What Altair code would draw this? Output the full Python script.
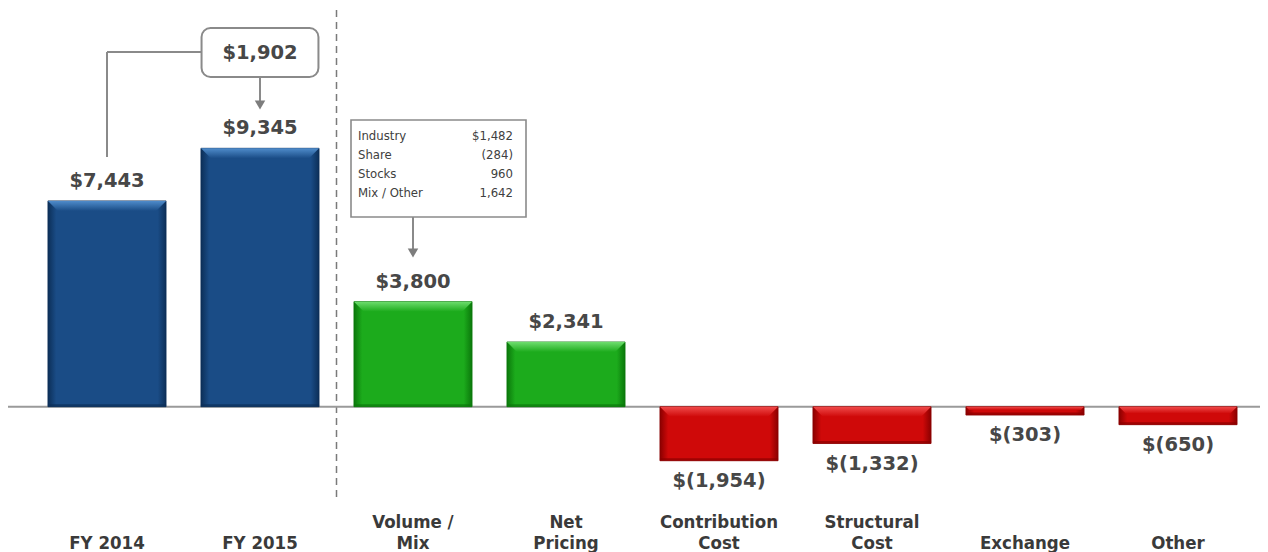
import altair as alt
import pandas as pd

# ---------------- data ----------------
categories = ["FY 2014", "FY 2015", "Volume /\nMix", "Net\nPricing",
              "Contribution\nCost", "Structural\nCost", "Exchange", "Other"]
values = [7443, 9345, 3800, 2341, -1954, -1332, -303, -650]
value_labels = ["$7,443", "$9,345", "$3,800", "$2,341",
                "$(1,954)", "$(1,332)", "$(303)", "$(650)"]
groups = ["total", "total", "up", "up", "down", "down", "down", "down"]

change_label = "$1,902"
detail_names = ["Industry", "Share", "Stocks", "Mix / Other"]
detail_values = ["$1,482", "(284)", "960", "1,642"]

# ---------------- geometry helpers ----------------
W, H = 1252, 544
K = 0.02765          # pixels per $M
BASE = 398.7         # zero line, px from top of plot
STEP, X0 = 153.0, 99.0
HALF = 0.386         # half bar width in category units

y_top = BASE / K
y_bot = -(H - BASE) / K
x_min = -X0 / STEP
x_max = (W - X0) / STEP


def vy(py):  # plot-pixel row -> value units
    return (BASE - py) / K


def vx(px_):  # plot-pixel column -> category units
    return (px_ - X0) / STEP


xs = alt.Scale(domain=[x_min, x_max], nice=False, zero=False)
ys = alt.Scale(domain=[y_bot, y_top], nice=False, zero=False)


def X(f):
    return alt.X(f, type="quantitative", scale=xs, axis=None)


def Y(f):
    return alt.Y(f, type="quantitative", scale=ys, axis=None)


bars = pd.DataFrame({"i": list(range(len(categories))), "cat": categories,
                     "value": values, "label": value_labels, "group": groups})

base = alt.Chart(bars).transform_calculate(
    xa=f"datum.i - {HALF}", xb=f"datum.i + {HALF}", zero="0",
).transform_calculate(
    eb="min(0, datum.value)",
    et=f"min(0, datum.value) + {2.5 / K}",
    ly=f"datum.value >= 0 ? datum.value + {20 / K} : datum.value - {20 / K}",
    cy=f"indexof(datum.cat, '\\n') >= 0 ? {vy(520)} : {vy(541)}",
)

# trapezoid bevel at the top face of each bar (derived from the values)
bev_rows = []
for i, (v, g) in enumerate(zip(values, groups)):
    b_px = min(10.0, abs(v) * K * 0.38)
    top = max(v, 0)
    d = b_px / STEP
    for xo, drop in [(-HALF, 0), (-HALF + d, b_px), (HALF - d, b_px), (HALF, 0)]:
        bev_rows.append({"bar": i, "group": g, "bx": i + xo,
                         "btop": top, "bbot": top - drop / K})
bevel_df = pd.DataFrame(bev_rows)

palette = {
    "total": ("#1a4c86", "#0c2f58", "#4f8ccb"),
    "up": ("#1cab1c", "#0b780b", "#6edd6e"),
    "down": ("#cf0909", "#8a0000", "#f04a4a"),
}

layers = []
for g, (main, dark, light) in palette.items():
    sub = base.transform_filter(f"datum.group == '{g}'")
    body = sub.mark_rect(
        color=alt.Gradient(gradient="linear", x1=0, x2=1, y1=0, y2=0, stops=[
            alt.GradientStop(color=dark, offset=0),
            alt.GradientStop(color=main, offset=0.07),
            alt.GradientStop(color=main, offset=0.93),
            alt.GradientStop(color=dark, offset=1)]),
        stroke=dark, strokeWidth=0.8,
    ).encode(x=X("xa:Q"), x2="xb:Q", y=Y("zero:Q"), y2="value:Q")
    top = alt.Chart(bevel_df).transform_filter(f"datum.group == '{g}'").mark_area(
        orient="vertical", interpolate="linear",
        color=alt.Gradient(gradient="linear", x1=0, x2=0, y1=0, y2=1, stops=[
            alt.GradientStop(color=light, offset=0),
            alt.GradientStop(color=main, offset=1)]),
    ).encode(x=alt.X("bx:Q", scale=xs, axis=None),
             y=alt.Y("btop:Q", scale=ys, axis=None, stack=None), y2="bbot:Q",
             detail="bar:N")
    edge = sub.mark_rect(color=dark, opacity=0.7).encode(
        x=alt.X("xa:Q", scale=xs, axis=None), x2="xb:Q",
        y=alt.Y("eb:Q", scale=ys, axis=None), y2="et:Q")
    layers += [body, top, edge]

value_text = base.mark_text(
    font="DejaVu Sans", fontWeight="bold", fontSize=19.5, color="#474747",
    baseline="middle", align="center",
).encode(x=alt.X("i:Q", scale=xs, axis=None),
         y=alt.Y("ly:Q", scale=ys, axis=None), text="label:N")

cat_text = base.mark_text(
    font="DejaVu Sans Condensed", fontWeight="bold", fontSize=18.5,
    color="#3a3a3a", baseline="alphabetic", align="center",
    lineBreak="\n", lineHeight=21,
).encode(x=alt.X("i:Q", scale=xs, axis=None),
         y=alt.Y("cy:Q", scale=ys, axis=None), text="cat:N")

# zero line
zero_df = pd.DataFrame({"x": [x_min], "x2": [x_max], "y": [0]})
zero_line = alt.Chart(zero_df).mark_rule(color="#9a9a9a", strokeWidth=2).encode(
    x=alt.X("x:Q", scale=xs, axis=None), x2="x2:Q",
    y=alt.Y("y:Q", scale=ys, axis=None))

# divider between the totals and the bridge items
div_df = pd.DataFrame({"x": [1.5], "y": [vy(2)], "y2": [vy(492)]})
divider = alt.Chart(div_df).mark_rule(
    color="#7a7a7a", strokeWidth=1.5, strokeDash=[7, 5]).encode(
    x=alt.X("x:Q", scale=xs, axis=None),
    y=alt.Y("y:Q", scale=ys, axis=None), y2="y2:Q")

# ----- $1,902 change callout -----
box1_df = pd.DataFrame({"x": [1 - 0.382], "x2": [1 + 0.382],
                        "y": [vy(20)], "y2": [vy(69)],
                        "tx": [1.0], "ty": [vy(44.5)], "t": [change_label]})
box1 = alt.Chart(box1_df).mark_rect(
    fill="white", stroke="#8a8a8a", strokeWidth=2, cornerRadius=9).encode(
    x=alt.X("x:Q", scale=xs, axis=None), x2="x2:Q",
    y=alt.Y("y:Q", scale=ys, axis=None), y2="y2:Q")
box1_text = alt.Chart(box1_df).mark_text(
    font="DejaVu Sans", fontWeight="bold", fontSize=19.5, color="#474747",
    baseline="middle", align="center").encode(
    x=alt.X("tx:Q", scale=xs, axis=None),
    y=alt.Y("ty:Q", scale=ys, axis=None), text="t:N")

conn_df = pd.DataFrame({
    "x": [0.0, 0.0, 1.0],
    "x2": [1 - 0.382, 0.0, 1.0],
    "y": [vy(44), vy(44), vy(69)],
    "y2": [vy(44), vy(149), vy(94)],
})
connectors = alt.Chart(conn_df).mark_rule(color="#8a8a8a", strokeWidth=2).encode(
    x=alt.X("x:Q", scale=xs, axis=None), x2="x2:Q",
    y=alt.Y("y:Q", scale=ys, axis=None), y2="y2:Q")

# ----- detail box for Volume / Mix -----
box2_df = pd.DataFrame({"x": [vx(343)], "x2": [vx(518)],
                        "y": [vy(112)], "y2": [vy(209)]})
box2 = alt.Chart(box2_df).mark_rect(
    fill="white", stroke="#8a8a8a", strokeWidth=1.6).encode(
    x=alt.X("x:Q", scale=xs, axis=None), x2="x2:Q",
    y=alt.Y("y:Q", scale=ys, axis=None), y2="y2:Q")

det_df = pd.DataFrame({
    "name": detail_names, "val": detail_values,
    "xl": [vx(350)] * 4, "xr": [vx(505)] * 4,
    "y": [vy(128), vy(147), vy(166), vy(185)],
})
det_names = alt.Chart(det_df).mark_text(
    font="DejaVu Sans Condensed", fontSize=13, color="#404040",
    align="left", baseline="middle").encode(
    x=alt.X("xl:Q", scale=xs, axis=None),
    y=alt.Y("y:Q", scale=ys, axis=None), text="name:N")
det_vals = alt.Chart(det_df).mark_text(
    font="DejaVu Sans Condensed", fontSize=13, color="#404040",
    align="right", baseline="middle").encode(
    x=alt.X("xr:Q", scale=xs, axis=None),
    y=alt.Y("y:Q", scale=ys, axis=None), text="val:N")

arrow2_df = pd.DataFrame({"x": [2.0], "y": [vy(209)], "y2": [vy(242)]})
arrow2 = alt.Chart(arrow2_df).mark_rule(color="#8a8a8a", strokeWidth=2).encode(
    x=alt.X("x:Q", scale=xs, axis=None),
    y=alt.Y("y:Q", scale=ys, axis=None), y2="y2:Q")

heads_df = pd.DataFrame({"x": [1.0, 2.0], "y": [vy(97), vy(245)]})
heads = alt.Chart(heads_df).mark_point(
    shape="triangle-down", filled=True, size=110, color="#7d7d7d", opacity=1).encode(
    x=alt.X("x:Q", scale=xs, axis=None),
    y=alt.Y("y:Q", scale=ys, axis=None))

chart = alt.layer(
    divider, zero_line, *layers, value_text, cat_text,
    connectors, box1, box1_text, box2, det_names, det_vals, arrow2, heads,
).properties(
    width=W, height=H, padding=0,
    autosize=alt.AutoSizeParams(type="none"),
    view=alt.ViewBackground(stroke="transparent", strokeWidth=0),
).configure_view(stroke="transparent", strokeWidth=0).configure(background="white")

chart.save("out.html", embed_options={"renderer": "svg", "actions": False})
